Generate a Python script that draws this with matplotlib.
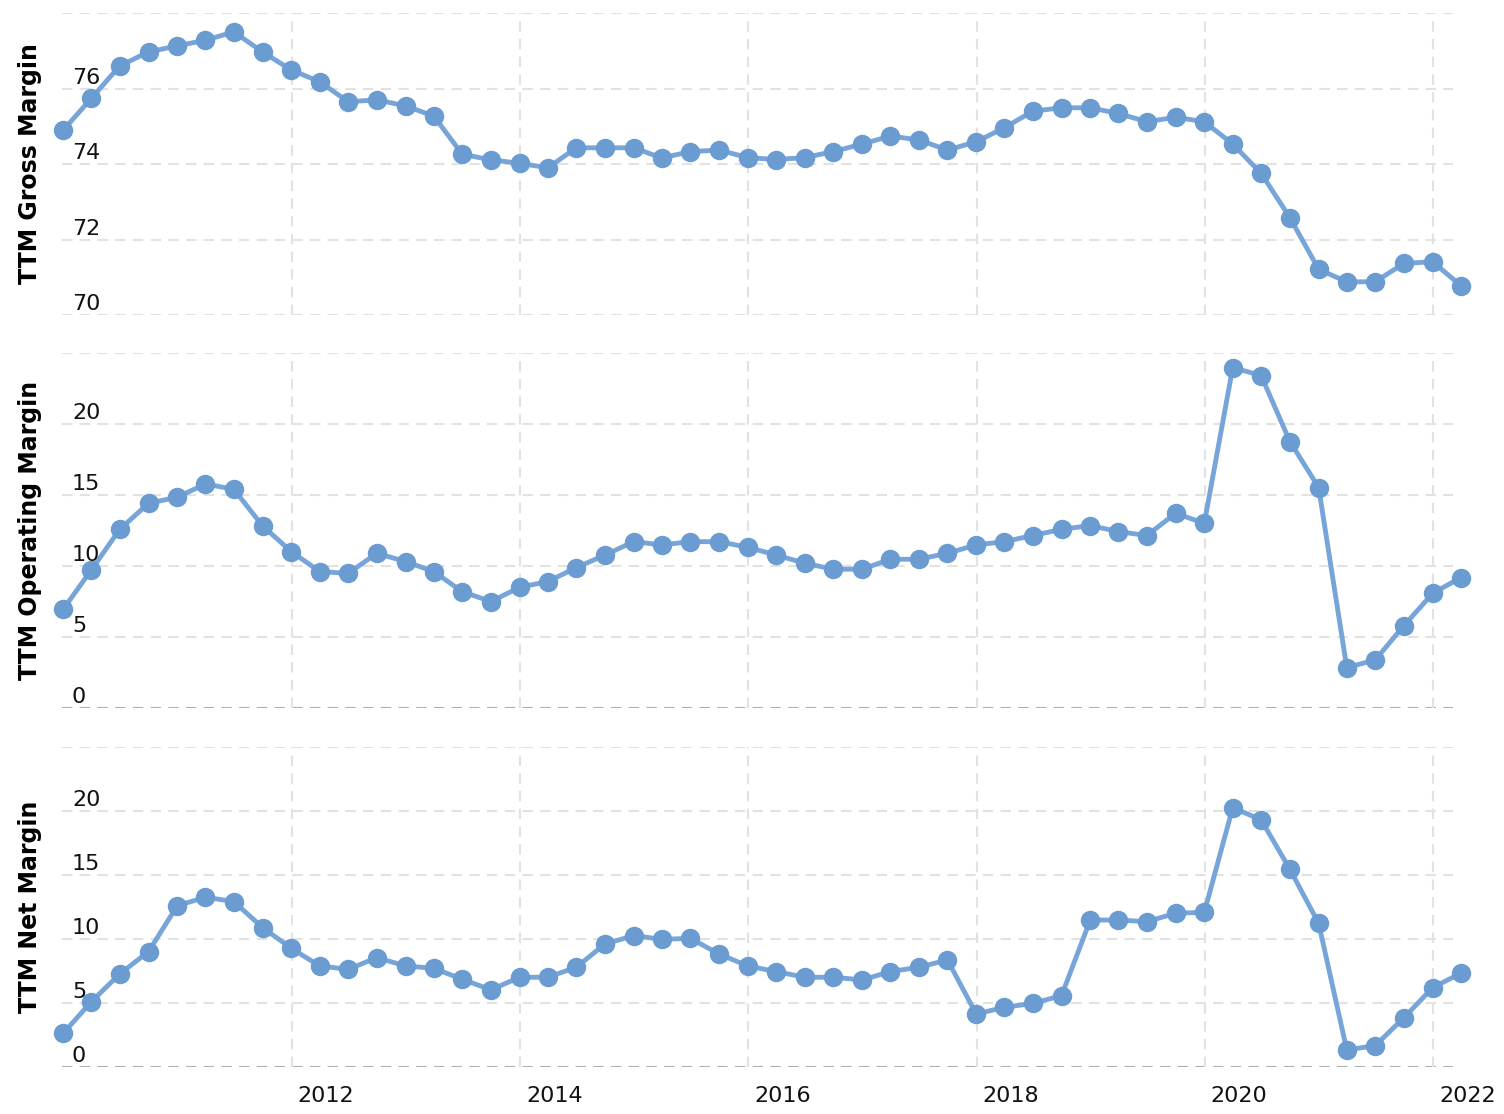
"""
TTM gross / operating / net margin - three stacked panels, quarterly 2009-2022
"""
import numpy as np
import pandas as pd
import matplotlib
matplotlib.use("Agg")
import matplotlib.pyplot as plt
import matplotlib.transforms as mtransforms

# Quarter-end dates, Q4 2009 .. Q1 2022 (50 quarters)
quarters = pd.period_range("2009Q4", "2022Q1", freq="Q").to_timestamp(how="end").normalize()

gross_margin = [
    74.90, 75.74, 76.60, 76.97, 77.13, 77.28, 77.50, 76.97, 76.49, 76.18,
    75.65, 75.70, 75.54, 75.27, 74.26, 74.11, 74.02, 73.90, 74.43, 74.43,
    74.43, 74.16, 74.33, 74.37, 74.17, 74.12, 74.17, 74.33, 74.53, 74.74,
    74.64, 74.37, 74.59, 74.96, 75.40, 75.49, 75.49, 75.34, 75.12, 75.24,
    75.12, 74.53, 73.75, 72.58, 71.21, 70.88, 70.88, 71.37, 71.41, 70.78,
]

operating_margin = [
    6.95, 9.72, 12.58, 14.41, 14.84, 15.77, 15.40, 12.82, 11.01, 9.60,
    9.48, 10.89, 10.31, 9.60, 8.19, 7.49, 8.50, 8.90, 9.88, 10.77,
    11.71, 11.48, 11.71, 11.71, 11.31, 10.77, 10.19, 9.77, 9.77, 10.47,
    10.47, 10.89, 11.48, 11.71, 12.14, 12.58, 12.84, 12.42, 12.14, 13.71,
    13.00, 23.97, 23.40, 18.76, 15.52, 2.84, 3.38, 5.80, 8.07, 9.18,
]

net_margin = [
    2.63, 5.10, 7.27, 9.01, 12.60, 13.26, 12.92, 10.89, 9.27, 7.89,
    7.63, 8.54, 7.89, 7.71, 6.85, 6.03, 7.01, 7.01, 7.79, 9.61,
    10.26, 9.97, 10.05, 8.83, 7.89, 7.45, 7.01, 7.01, 6.80, 7.45,
    7.79, 8.36, 4.14, 4.66, 4.97, 5.57, 11.48, 11.48, 11.35, 12.01,
    12.08, 20.26, 19.30, 15.44, 11.22, 1.33, 1.67, 3.85, 6.20, 7.32,
]

year_ticks = [2012, 2014, 2016, 2018, 2020, 2022]

# (label, values, y ticks, labelled ticks)
panels = [
    ("TTM Gross Margin", gross_margin, [70, 72, 74, 76, 78], [70, 72, 74, 76]),
    ("TTM Operating Margin", operating_margin, [0, 5, 10, 15, 20, 25], [0, 5, 10, 15, 20]),
    ("TTM Net Margin", net_margin, [0, 5, 10, 15, 20, 25], [0, 5, 10, 15, 20]),
]

# axes rectangles in figure fraction [left, bottom, width, height]
rects = [
    [0.0412, 0.7172, 0.9249, 0.2711],
    [0.0412, 0.3645, 0.9249, 0.3187],
    [0.0412, 0.0422, 0.9249, 0.2873],
]

LINE_COLOR = "#77a5d9"
MARKER_COLOR = "#6a9bd1"
GRID_COLOR = "#e2e2e2"
ZERO_COLOR = "#b0b0b0"
DASH = (0, (5, 3.5))


def draw_panel(fig, rect, label, values, yticks, ylabels, show_years):
    ax = fig.add_axes(rect)
    for s in ax.spines.values():
        s.set_visible(False)

    xmin = pd.Timestamp("2009-12-27")
    xmax = pd.Timestamp("2022-03-06")
    ax.set_xlim(xmin, xmax)
    ax.set_ylim(yticks[0], yticks[-1])

    # horizontal grid
    for y in yticks:
        color = ZERO_COLOR if (y == 0) else GRID_COLOR
        ax.axhline(y, color=color, lw=1.5, ls=DASH, zorder=1)

    # vertical grid
    for yr in year_ticks:
        ax.axvline(pd.Timestamp(f"{yr}-01-01"), color=GRID_COLOR, lw=1.5, ls=DASH, zorder=1)

    ax.plot(quarters, values, color=LINE_COLOR, lw=3.5, zorder=3, clip_on=False,
            marker="o", markersize=14, markerfacecolor=MARKER_COLOR,
            markeredgecolor=MARKER_COLOR, markeredgewidth=0)

    ax.set_xticks([])
    ax.set_yticks([])

    # y tick labels sit inside the plot, just above their grid line
    ytrans = mtransforms.blended_transform_factory(ax.transAxes, ax.transData)
    ytrans = ytrans + mtransforms.ScaledTranslation(10 / 100, 1 / 100, fig.dpi_scale_trans)
    for y in ylabels:
        ax.text(0, y, str(y), transform=ytrans, ha="left", va="bottom",
                fontsize=16, color="#111111")

    if show_years:
        xtrans = mtransforms.blended_transform_factory(ax.transData, ax.transAxes)
        xtrans = xtrans + mtransforms.ScaledTranslation(6 / 100, -19 / 100, fig.dpi_scale_trans)
        for yr in year_ticks:
            ax.text(pd.Timestamp(f"{yr}-01-01"), 0, str(yr), transform=xtrans,
                    ha="left", va="top", fontsize=16, color="#111111")

    ax.set_ylabel(label, fontsize=17, fontweight="bold", color="#000000")
    ax.yaxis.set_label_coords(-0.0144, 0.5)
    return ax


def main():
    plt.rcParams["font.family"] = ["DejaVu Sans"]
    fig = plt.figure(figsize=(15.04, 11.14), dpi=100)

    for i, (label, values, yticks, ylabels) in enumerate(panels):
        draw_panel(fig, rects[i], label, values, yticks, ylabels, show_years=(i == len(panels) - 1))

    fig.savefig("out.png", dpi=100)


if __name__ == "__main__":
    main()
